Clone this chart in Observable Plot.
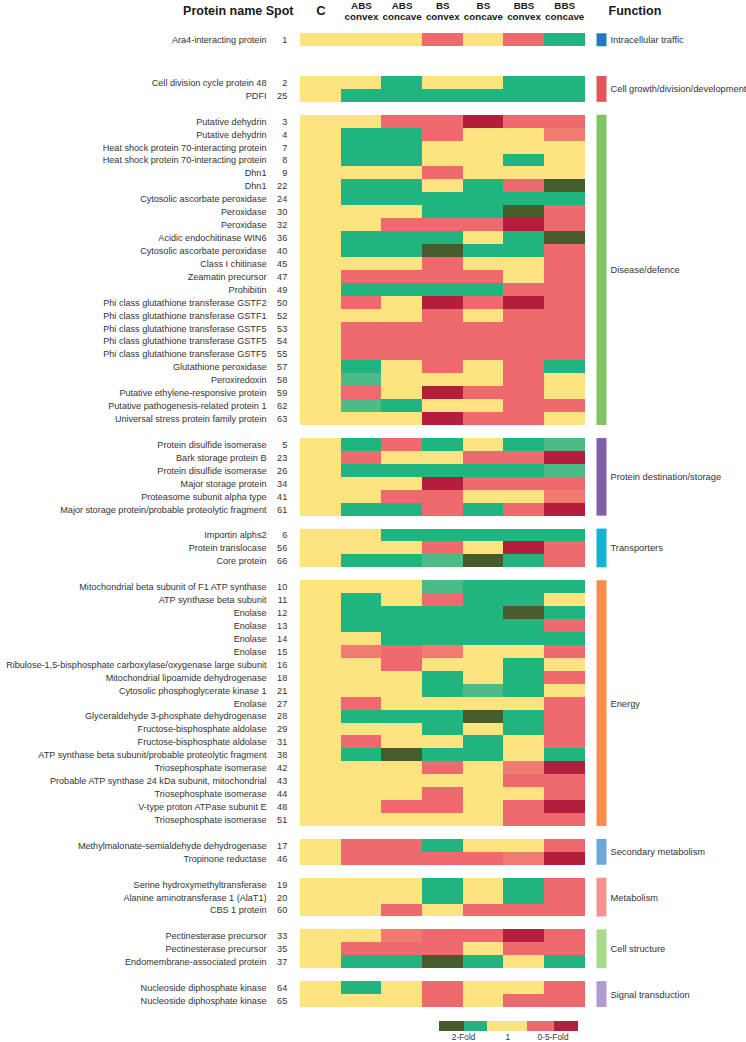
<!DOCTYPE html>
<html><head><meta charset="utf-8">
<script src="https://cdn.jsdelivr.net/npm/d3@7"></script>
<script src="https://cdn.jsdelivr.net/npm/@observablehq/plot@0.6"></script>
<style>
body{margin:0;background:#fff;}
#chart svg{display:block}
</style></head><body><div id="chart"></div>
<script>
// ---------- data ----------
const columns = ["C","ABS convex","ABS concave","BS convex","BS concave","BBS convex","BBS concave"];
const functions = ["Intracellular traffic","Cell growth/division/development","Disease/defence","Protein destination/storage","Transporters","Energy","Secondary metabolism","Metabolism","Cell structure","Signal transduction"];
const functionColors = ["#2479c3","#e0575a","#80c463","#7f5fa8","#16b2cf","#f68c4e","#6fa6d8","#f29392","#a9d98d","#b29bd1"];
const proteinNames = [
 "Ara4-interacting protein",
 "Cell division cycle protein 48","PDFI",
 "Putative dehydrin","Putative dehydrin","Heat shock protein 70-interacting protein","Heat shock protein 70-interacting protein","Dhn1","Dhn1","Cytosolic ascorbate peroxidase","Peroxidase","Peroxidase","Acidic endochitinase WIN6","Cytosolic ascorbate peroxidase","Class I chitinase","Zeamatin precursor","Prohibitin","Phi class glutathione transferase GSTF2","Phi class glutathione transferase GSTF1","Phi class glutathione transferase GSTF5","Phi class glutathione transferase GSTF5","Phi class glutathione transferase GSTF5","Glutathione peroxidase","Peroxiredoxin","Putative ethylene-responsive protein","Putative pathogenesis-related protein 1","Universal stress protein family protein",
 "Protein disulfide isomerase","Bark storage protein B","Protein disulfide isomerase","Major storage protein","Proteasome subunit alpha type","Major storage protein/probable proteolytic fragment",
 "Importin alphs2","Protein translocase","Core protein",
 "Mitochondrial beta subunit of F1 ATP synthase","ATP synthase beta subunit","Enolase","Enolase","Enolase","Enolase","Ribulose-1,5-bisphosphate carboxylase/oxygenase large subunit","Mitochondrial lipoamide dehydrogenase","Cytosolic phosphoglycerate kinase 1","Enolase","Glyceraldehyde 3-phosphate dehydrogenase","Fructose-bisphosphate aldolase","Fructose-bisphosphate aldolase","ATP synthase beta subunit/probable proteolytic fragment","Triosephosphate isomerase","Probable ATP synthase 24 kDa subunit, mitochondrial","Triosephosphate isomerase","V-type proton ATPase subunit E","Triosephosphate isomerase",
 "Methylmalonate-semialdehyde dehydrogenase","Tropinone reductase",
 "Serine hydroxymethyltransferase","Alanine aminotransferase 1 (AlaT1)","CBS 1 protein",
 "Pectinesterase precursor","Pectinesterase precursor","Endomembrane-associated protein",
 "Nucleoside diphosphate kinase","Nucleoside diphosphate kinase"
];
const spotNumbers = [1, 2,25, 3,4,7,8,9,22,24,30,32,36,40,45,47,49,50,52,53,54,55,57,58,59,62,63, 5,23,26,34,41,61, 6,56,66, 10,11,12,13,14,15,16,18,21,27,28,29,31,38,42,43,44,48,51, 17,46, 19,20,60, 33,35,37, 64,65];
const rowFunction = [0, 1,1, 2,2,2,2,2,2,2,2,2,2,2,2,2,2,2,2,2,2,2,2,2,2,2,2, 3,3,3,3,3,3, 4,4,4, 5,5,5,5,5,5,5,5,5,5,5,5,5,5,5,5,5,5,5, 6,6, 7,7,7, 8,8,8, 9,9];
// fold levels: 2 strong up, 1 up, 0.5 weak up, 0 = 1-fold, -0.5 weak down, -1 down, -2 strong down
const foldLevels = [
 [0,0,0,-1,0,-1,1],
 [0,0,1,0,0,1,1],[0,1,1,1,1,1,1],
 [0,0,-1,-1,-2,-1,-1],[0,1,1,-1,0,0,-0.5],[0,1,1,0,0,0,0],[0,1,1,0,0,1,0],[0,0,0,-1,0,0,0],[0,1,1,0,1,-1,2],[0,1,1,1,1,1,1],[0,0,0,1,1,2,-1],[0,0,-1,-1,-1,-2,-1],[0,1,1,1,0,1,2],[0,1,1,2,1,1,-1],[0,0,0,-1,0,0,-1],[0,-1,-1,-1,-1,0,-1],[0,1,1,1,1,-1,-1],[0,-1,0,-2,-1,-2,-1],[0,0,0,-1,0,-1,-1],[0,-1,-1,-1,-1,-1,-1],[0,-1,-1,-1,-1,-1,-1],[0,-1,-1,-1,-1,-1,-1],[0,1,0,-1,0,-1,1],[0,0.5,0,0,0,-1,0],[0,-1,0,-2,-1,-1,0],[0,0.5,1,0,0,-1,-1],[0,0,0,-2,-1,-1,0],
 [0,1,-1,1,0,1,0.5],[0,-1,0,0,-1,-1,-2],[0,1,1,1,1,1,0.5],[0,0,0,-2,-1,-1,-1],[0,0,-1,-1,0,0,-0.5],[0,1,1,-1,1,-1,-2],
 [0,0,1,1,1,1,1],[0,0,0,-1,0,-2,-1],[0,1,1,0.5,2,1,-1],
 [0,0,0,0.5,1,1,1],[0,1,0,-1,1,1,0],[0,1,1,1,1,2,1],[0,1,1,1,1,1,-1],[0,0,1,1,1,1,1],[0,-0.5,-1,-0.5,0,0,-1],[0,0,-1,0,0,1,0],[0,0,0,1,0,1,-1],[0,0,0,1,0.5,1,0],[0,-1,0,0,0,0,-1],[0,1,1,1,2,1,-1],[0,0,0,1,0,1,-1],[0,-1,0,0,1,0,-1],[0,1,2,1,1,0,1],[0,0,0,-1,0,-0.5,-2],[0,0,0,0,0,-1,-1],[0,0,0,-1,0,0,-1],[0,0,-1,-1,0,-1,-2],[0,0,0,0,0,-1,-1],
 [0,-1,-1,1,0,0,-1],[0,-1,-1,-1,-1,-0.5,-2],
 [0,0,0,1,0,1,-1],[0,0,0,1,0,1,-1],[0,0,-1,0,-1,-1,-1],
 [0,0,-0.5,-1,-1,-2,-1],[0,-1,-1,-1,0,-1,-1],[0,1,1,2,1,0,1],
 [0,1,0,-1,0,0,-1],[0,0,0,-1,0,-1,-1]
];
const levelDomain = [2,1,0.5,0,-0.5,-1,-2];
const levelColors = ["#475c2c","#20b57f","#4cbb86","#fde481","#f07b71","#ee6a6f","#b21e3b"];
const legendLevels = [2,1,0,-1,-2];
const legendWidths = [25,23,40,26,24];
const legendLabels = ["2-Fold","1","0·5-Fold"];
const legendLabelSpans = [[0,2],[2,3],[3,5]];

// ---------- layout from data ----------
const rows = [];
const groupSpans = [];
let pos = 0;
proteinNames.forEach((name, i) => {
  const g = rowFunction[i];
  if (i > 0 && g !== rowFunction[i - 1]) pos += (g === 1 ? 2.3 : 1);
  if (!groupSpans[g]) groupSpans[g] = {fn: functions[g], color: functionColors[g], y1: pos, y2: pos};
  rows.push({name, spot: spotNumbers[i], pos});
  pos += 1;
  groupSpans[g].y2 = pos;
});
const total = pos;
const cells = rows.flatMap((r, i) => foldLevels[i].map((v, j) => ({pos: r.pos, col: j, v})));

const font = "'Liberation Sans', Arial, Helvetica, sans-serif";
const colorScale = {type: "ordinal", domain: levelDomain, range: levelColors};

const main = Plot.plot({
  width: 746, height: 1012,
  marginTop: 0, marginLeft: 0, marginRight: 0, marginBottom: 0,
  x: {type: "linear", domain: [0, columns.length], range: [300, 584.5], axis: null},
  y: {type: "linear", domain: [0, total], range: [33.3, 1007], axis: null},
  color: colorScale,
  style: {fontFamily: font, fontSize: "9px", background: "white", color: "#333"},
  marks: [
    Plot.rect(cells, {x1: "col", x2: d => d.col + 1, y1: "pos", y2: d => d.pos + 1, fill: "v", shapeRendering: "crispEdges"}),
    Plot.text(rows, {x: () => 0, y: d => d.pos + 0.5, text: "name", textAnchor: "end", dx: -34, fontSize: 9.1, fill: "#333"}),
    Plot.text(rows, {x: () => 0, y: d => d.pos + 0.5, text: d => String(d.spot), textAnchor: "end", dx: -13.3, fontSize: 9.1, fill: "#333"}),
    ...groupSpans.map(g => Plot.ruleX([g], {x: () => columns.length, y1: "y1", y2: "y2", stroke: g.color, strokeWidth: 10, dx: 16.5})),
    Plot.text(groupSpans, {x: () => columns.length, y: d => (d.y1 + d.y2) / 2, text: "fn", textAnchor: "start", dx: 25.5, fontSize: 9.3, fill: "#333"}),
    // headers
    Plot.text(["Protein name Spot"], {x: () => 0, frameAnchor: "top", lineAnchor: "middle", dy: 10.5, textAnchor: "end", dx: -7, fontWeight: "bold", fontSize: 12.5, fill: "#1a1a1a"}),
    Plot.text([columns[0]], {x: () => 0.5, frameAnchor: "top", lineAnchor: "middle", dy: 10, fontWeight: "bold", fontSize: 13, fill: "#1a1a1a"}),
    Plot.text(columns.slice(1), {x: d => columns.indexOf(d) + 0.5, frameAnchor: "top", lineAnchor: "middle", dy: 10.9, text: d => d.replace(" ", "\n"), lineHeight: 1.12, fontWeight: "bold", fontSize: 9.8, fill: "#1a1a1a"}),
    Plot.text(["Function"], {x: () => columns.length, frameAnchor: "top", lineAnchor: "middle", dy: 10.5, textAnchor: "start", dx: 23.5, fontWeight: "bold", fontSize: 12.5, fill: "#1a1a1a"})
  ]
});

const legendData = legendLevels.map((v, i) => ({v, w: legendWidths[i]}));
const cum = d3.cumsum([0, ...legendWidths]);
const legendTotal = d3.sum(legendWidths);
const labelData = legendLabels.map((label, i) => ({label, x: (cum[legendLabelSpans[i][0]] + cum[legendLabelSpans[i][1]]) / 2}));

const legend = Plot.plot({
  width: 746, height: 30,
  marginLeft: 439, marginRight: 746 - 439 - 138.7, marginTop: 9, marginBottom: 11,
  x: {domain: [0, legendTotal], axis: null},
  color: colorScale,
  style: {fontFamily: font, fontSize: "8.3px", background: "white"},
  marks: [
    Plot.barX(legendData, Plot.stackX({x: "w", fill: "v", shapeRendering: "crispEdges"})),
    Plot.text(labelData, {x: "x", text: "label", frameAnchor: "bottom", lineAnchor: "middle", dy: 5.5, fontSize: 8.3, fill: "#333"})
  ]
});

document.getElementById("chart").append(main, legend);
</script>
</body></html>
